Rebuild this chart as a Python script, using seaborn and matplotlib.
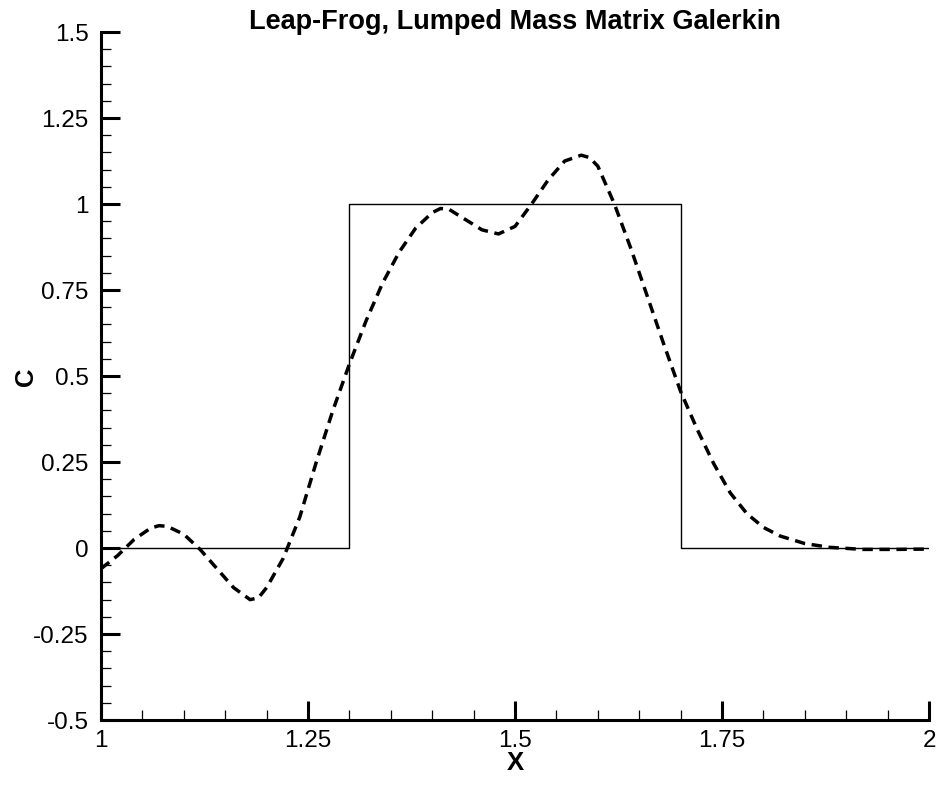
import numpy as np
import pandas as pd
import seaborn as sns
import matplotlib
matplotlib.use("Agg")
import matplotlib.pyplot as plt
from matplotlib.ticker import MultipleLocator, FixedLocator, FixedFormatter

# Exact solution: square pulse
exact_x = [1.0, 1.3, 1.3, 1.7, 1.7, 2.0]
exact_c = [0.0, 0.0, 1.0, 1.0, 0.0, 0.0]

# Leap-Frog lumped-mass Galerkin solution
num_x = [1.00, 1.02, 1.04, 1.06, 1.07, 1.08, 1.10, 1.12, 1.14, 1.16,
         1.18, 1.19, 1.20, 1.22, 1.24, 1.26, 1.28, 1.30, 1.32, 1.34,
         1.36, 1.38, 1.40, 1.41, 1.42, 1.44, 1.46, 1.48, 1.50, 1.52,
         1.54, 1.56, 1.58, 1.59, 1.60, 1.62, 1.64, 1.66, 1.68, 1.70,
         1.72, 1.74, 1.76, 1.78, 1.80, 1.82, 1.85, 1.88, 1.92, 1.96, 2.00]
num_c = [-0.060, -0.022, 0.025, 0.058, 0.065, 0.063, 0.040, -0.005, -0.060, -0.115,
         -0.150, -0.145, -0.115, -0.030, 0.090, 0.250, 0.400, 0.535, 0.660, 0.770,
         0.860, 0.930, 0.975, 0.987, 0.985, 0.955, 0.925, 0.913, 0.935, 1.000,
         1.070, 1.125, 1.142, 1.135, 1.110, 1.000, 0.870, 0.730, 0.590, 0.455,
         0.345, 0.245, 0.160, 0.100, 0.060, 0.035, 0.013, 0.002, -0.004, -0.004, -0.003]

x_ticks = [1.0, 1.25, 1.5, 1.75, 2.0]
x_labels = ["1", "1.25", "1.5", "1.75", "2"]
y_ticks = [-0.5, -0.25, 0.0, 0.25, 0.5, 0.75, 1.0, 1.25, 1.5]
y_labels = ["-0.5", "-0.25", "0", "0.25", "0.5", "0.75", "1", "1.25", "1.5"]

sns.set_theme(style="white")
plt.rcParams["font.family"] = ["Liberation Sans", "DejaVu Sans"]

fig = plt.figure(figsize=(9.39, 7.87), dpi=100)
ax = fig.add_axes([0.1076, 0.0851, 0.8818, 0.8742])

exact_df = pd.DataFrame({"x": exact_x, "c": exact_c})
num_df = pd.DataFrame({"x": num_x, "c": num_c})

sns.lineplot(data=exact_df, x="x", y="c", ax=ax, estimator=None, sort=False,
             color="black", linewidth=1.0)
sns.lineplot(data=num_df, x="x", y="c", ax=ax, estimator=None, sort=False,
             color="black", linewidth=2.5, linestyle=(0, (3.0, 1.9)))

ax.set_xlim(1.0, 2.0)
ax.set_ylim(-0.5, 1.5)

ax.xaxis.set_major_locator(FixedLocator(x_ticks))
ax.xaxis.set_major_formatter(FixedFormatter(x_labels))
ax.yaxis.set_major_locator(FixedLocator(y_ticks))
ax.yaxis.set_major_formatter(FixedFormatter(y_labels))
ax.xaxis.set_minor_locator(MultipleLocator(0.05))
ax.yaxis.set_minor_locator(MultipleLocator(0.05))

ax.tick_params(which="major", direction="in", length=14, width=2.2,
               color="black", labelsize=17.5, labelcolor="black")
ax.tick_params(axis="x", which="major", pad=7)
ax.tick_params(axis="y", which="major", pad=9)
ax.tick_params(which="minor", direction="in", length=7, width=0.9, color="black")
ax.tick_params(axis="y", which="both", left=True, right=False)
ax.tick_params(axis="x", which="both", bottom=True, top=False)

for side in ["top", "right"]:
    ax.spines[side].set_visible(False)
for side in ["left", "bottom"]:
    ax.spines[side].set_color("black")
    ax.spines[side].set_linewidth(2.2)

ax.set_xlabel("X", fontsize=18.5, fontweight="bold", color="black")
ax.set_ylabel("C", fontsize=18.5, fontweight="bold", color="black")
ax.xaxis.label.set_va("center")
ax.yaxis.label.set_va("center")
ax.xaxis.set_label_coords(0.5, -0.0625)
ax.yaxis.set_label_coords(-0.0906, 0.4985)

ax.text(0.5, 1.004, "Leap-Frog, Lumped Mass Matrix Galerkin", transform=ax.transAxes,
        ha="center", va="baseline", fontsize=19.5, fontweight="bold", color="black")

fig.savefig("out.png", dpi=100, facecolor="white")
